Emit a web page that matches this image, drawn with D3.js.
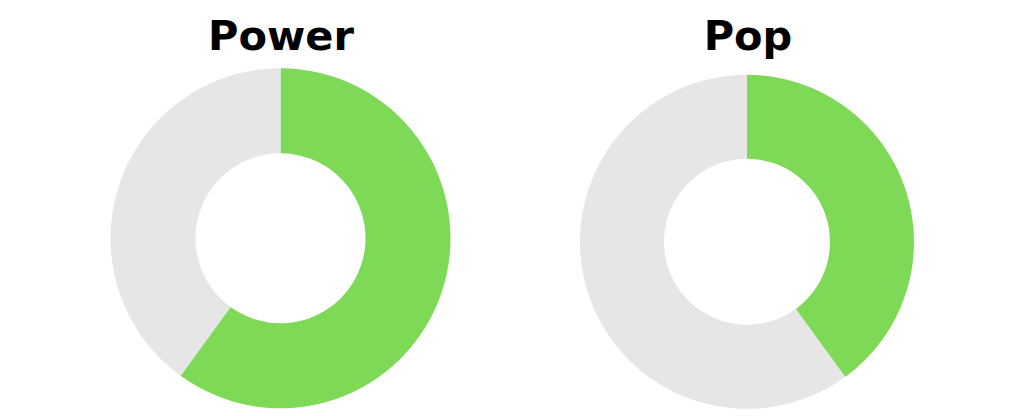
<!DOCTYPE html>
<html><head><meta charset="utf-8">
<script src="https://cdn.jsdelivr.net/npm/d3@7"></script>
<style>html,body{margin:0;padding:0;background:#fff;}svg{display:block;}</style>
</head><body>
<svg id="chart" width="1024" height="416"></svg>
<script>
const titles = ["Power", "Pop"];
const greenShare = [60, 40];
const restShare = [40, 60];
const segmentColors = ["#7ED957", "#E6E6E6"];

const svg = d3.select("#chart");
const layout = [
  {cx: 280.5, cy: 238.3, outer: 170, inner: 85, tx: 281},
  {cx: 747, cy: 241.8, outer: 167, inner: 83, tx: 748}
];
const pie = d3.pie().sort(null).value(d => d);

titles.forEach((t, i) => {
  const L = layout[i];
  const g = svg.append("g").attr("transform", `translate(${L.cx},${L.cy})`);
  const arc = d3.arc().innerRadius(L.inner).outerRadius(L.outer);
  g.selectAll("path").data(pie([greenShare[i], restShare[i]])).join("path")
    .attr("d", arc).attr("fill", (d, j) => segmentColors[j]);
  svg.append("text").attr("x", L.tx).attr("y", 50)
    .attr("text-anchor", "middle")
    .attr("font-family", "'DejaVu Sans', sans-serif")
    .attr("font-weight", "bold").attr("font-size", 41.5)
    .attr("fill", "#000").text(t);
});
</script>
</body></html>
